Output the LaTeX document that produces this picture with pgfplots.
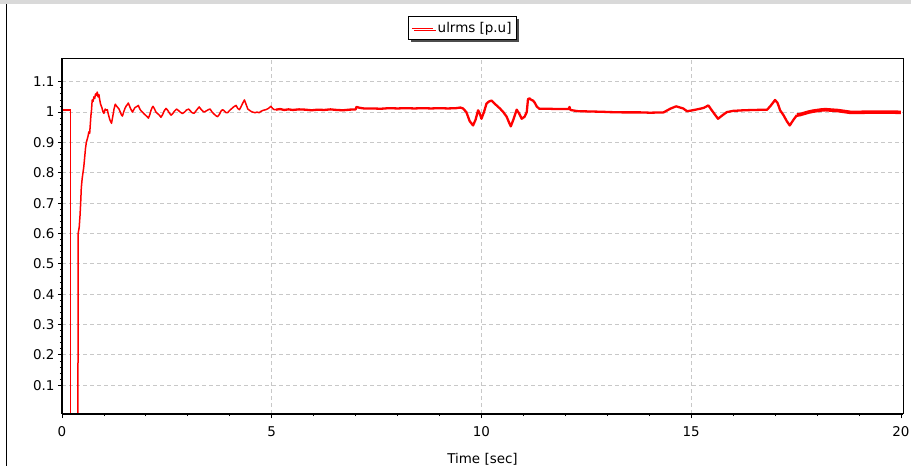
\documentclass[border=0pt]{standalone}
\usepackage{pgfplots}
\pgfplotsset{compat=1.18}
\usepackage{fontspec}
\setmainfont{DejaVu Sans}
\usetikzlibrary{shadows}
\definecolor{gridgray}{RGB}{200,200,200}
\begin{document}
\begin{tikzpicture}
\path[use as bounding box] (0bp,0bp) rectangle (911bp,466bp);
\fill[black!15] (0bp,462bp) rectangle (911bp,466bp);
\draw[black, line width=1bp] (6.5bp,0bp) -- (6.5bp,462bp);
\begin{axis}[
  at={(62bp,52bp)}, anchor=south west,
  width=841bp, height=355bp, scale only axis,
  xmin=0, xmax=20.05, ymin=0.005, ymax=1.175,
  xtick={0,5,10,15,20}, minor x tick num=4,
  extra x ticks={5,10,15}, extra x tick labels={},
  extra x tick style={grid=major, major tick length=4bp},
  ytick={0.1,0.2,0.3,0.4,0.5,0.6,0.7,0.8,0.9,1,1.1}, minor y tick num=4,
  xtick pos=bottom, ytick pos=left,
  tick align=outside,
  major tick length=4bp, minor tick length=2bp,
  every tick/.style={black, line width=0.8bp},
  ymajorgrids,
  major grid style={gridgray, line width=0.8bp, dash pattern=on 4bp off 3bp},
  axis line style={line width=1bp},
  /pgf/number format/assume math mode=true,
  ticklabel style={font=\fontsize{13.5}{15}\selectfont},
  xticklabel style={yshift=-5bp},
  xlabel={Time [sec]},
  xlabel style={font=\fontsize{13.5}{15}\selectfont, yshift=-2bp},
  legend style={at={(0.4762,1)}, anchor=south, yshift=19bp,
    font=\fontsize{13.5}{15}\selectfont, draw=black, line width=0.8bp, fill=white,
    drop shadow={shadow xshift=2.5bp, shadow yshift=-2.5bp, fill=black!70, opacity=1},
    inner xsep=3bp, inner ysep=3.5bp,
    /tikz/every odd column/.append style={column sep=2bp}},
  legend image code/.code={\draw[red, line width=1bp] (0cm,0cm) -- (0.75cm,0cm);},
  after end axis/.code={
    \draw[line width=2.2bp] (rel axis cs:0,0) -- (rel axis cs:1,0);
    \draw[line width=2.2bp] (rel axis cs:0,0) -- (rel axis cs:0,1);
  },
]
\addplot[red, line width=1.2bp] coordinates {
(0,1.007) (0.207,1.007) (0.207,0.0) (0.38,0.0)
};
\addlegendentry{ulrms [p.u]}
\addplot[red, line width=1.5bp, line join=round, forget plot] coordinates {
(0.38,0.0) (0.385,0.60) (0.41,0.62) (0.43,0.66) (0.445,0.70) (0.46,0.75) (0.48,0.78) (0.50,0.80) (0.52,0.82) (0.54,0.85) (0.56,0.88) (0.58,0.90) (0.60,0.91) (0.62,0.92) (0.64,0.935) (0.66,0.93) (0.67,0.95) (0.69,0.99) (0.70,1.00) (0.72,1.04) (0.74,1.035) (0.76,1.05) (0.78,1.045) (0.80,1.06) (0.82,1.055) (0.84,1.066) (0.86,1.05) (0.88,1.058) (0.90,1.04) (0.92,1.026) (0.95,1.015) (0.98,1.00) (1.00,0.996) (1.03,1.01) (1.06,1.006) (1.08,1.008) (1.11,0.99) (1.14,0.975) (1.18,0.963) (1.21,0.985) (1.24,1.01) (1.27,1.026) (1.30,1.02) (1.33,1.015) (1.36,1.01) (1.39,1.0) (1.42,0.99) (1.44,0.987) (1.47,1.0) (1.50,1.012) (1.53,1.02) (1.56,1.025) (1.58,1.03) (1.61,1.02) (1.64,1.01) (1.68,1.0) (1.71,1.008) (1.74,1.015) (1.78,1.018) (1.82,1.022) (1.85,1.012) (1.88,1.005) (1.92,1.0) (1.95,0.995) (1.99,0.99) (2.03,0.985) (2.06,0.98) (2.09,0.99) (2.12,1.005) (2.15,1.015) (2.17,1.019) (2.20,1.012) (2.24,1.0) (2.28,0.995) (2.32,0.99) (2.36,0.983) (2.40,0.992) (2.44,1.005) (2.48,1.012) (2.52,1.006) (2.56,0.997) (2.60,0.99) (2.64,0.995) (2.68,1.003) (2.73,1.01) (2.77,1.006) (2.82,1.0) (2.87,0.995) (2.92,1.0) (2.97,1.007) (3.02,1.01) (3.06,1.004) (3.10,0.998) (3.15,0.996) (3.20,1.005) (3.24,1.012) (3.27,1.017) (3.31,1.01) (3.35,1.004) (3.39,1.0) (3.44,1.004) (3.49,1.008) (3.53,1.01) (3.58,1.0) (3.63,0.993) (3.67,0.988) (3.71,0.985) (3.75,0.992) (3.79,1.003) (3.83,1.008) (3.87,1.004) (3.91,0.998) (3.95,0.998) (4.00,1.006) (4.05,1.012) (4.10,1.018) (4.15,1.022) (4.19,1.012) (4.23,1.008) (4.27,1.018) (4.31,1.03) (4.35,1.04) (4.39,1.025) (4.43,1.01) (4.47,1.006) (4.51,1.002) (4.55,1.0) (4.60,0.998) (4.65,1.0) (4.70,0.998) (4.75,1.003) (4.80,1.006) (4.86,1.008) (4.92,1.012) (4.98,1.019) (5.02,1.012) (5.06,1.008) (5.10,1.008)
};
\addplot[red, line width=2.3bp, line join=round, forget plot] coordinates {
(5.10,1.008) (5.2,1.01) (5.3,1.007) (5.4,1.009) (5.5,1.007) (5.65,1.009) (5.8,1.008) (5.95,1.006) (6.1,1.008) (6.25,1.007) (6.4,1.009) (6.55,1.007) (6.7,1.006) (6.85,1.008) (7.0,1.009) (7.02,1.017) (7.1,1.014) (7.2,1.012) (7.4,1.012) (7.6,1.011) (7.8,1.013) (8.0,1.012) (8.2,1.013) (8.4,1.012) (8.6,1.013) (8.8,1.012) (9.0,1.013) (9.2,1.012) (9.4,1.013) (9.5,1.015) (9.56,1.012) (9.64,1.0) (9.72,0.97) (9.8,0.956) (9.86,0.975) (9.92,1.006) (9.96,0.995) (10.0,0.978) (10.06,1.0) (10.12,1.028) (10.18,1.035) (10.24,1.038) (10.30,1.03) (10.36,1.022) (10.44,1.012) (10.52,1.0) (10.6,0.985) (10.66,0.965) (10.7,0.953) (10.76,0.975) (10.84,1.008) (10.9,0.995) (10.96,0.978) (11.03,0.985) (11.08,1.0) (11.11,1.043) (11.15,1.045) (11.19,1.04) (11.23,1.038) (11.27,1.031) (11.32,1.018) (11.38,1.011) (11.6,1.011) (11.8,1.010) (12.0,1.01) (12.08,1.01) (12.1,1.017) (12.12,1.007) (12.3,1.003) (12.6,1.002) (12.9,1.001) (13.06,1.0) (13.4,0.999) (13.8,0.999) (14.02,0.998) (14.34,0.999) (14.5,1.011) (14.64,1.019) (14.81,1.012) (14.9,1.003) (15.0,1.005) (15.21,1.011) (15.3,1.014) (15.41,1.022) (15.49,1.006) (15.64,0.978) (15.75,0.99) (15.85,1.0) (16.0,1.004) (16.25,1.006) (16.5,1.007) (16.81,1.008) (16.89,1.02) (17.0,1.04) (17.06,1.03) (17.12,1.006) (17.2,0.99) (17.28,0.97) (17.35,0.956) (17.44,0.975) (17.52,0.99)
};
\addplot[red, line width=3.6bp, line join=round, forget plot] coordinates {
(17.52,0.99) (17.6,0.992) (17.7,0.996) (17.8,1.0) (17.9,1.003) (18.0,1.005) (18.1,1.007) (18.2,1.008) (18.3,1.007) (18.4,1.006) (18.5,1.005) (18.6,1.003) (18.7,1.001) (18.8,0.999) (18.9,0.999) (19.0,0.999) (19.2,1.0) (19.4,1.0) (19.6,1.0) (19.8,1.0) (20.0,0.999)
};
\end{axis}
\end{tikzpicture}
\end{document}
